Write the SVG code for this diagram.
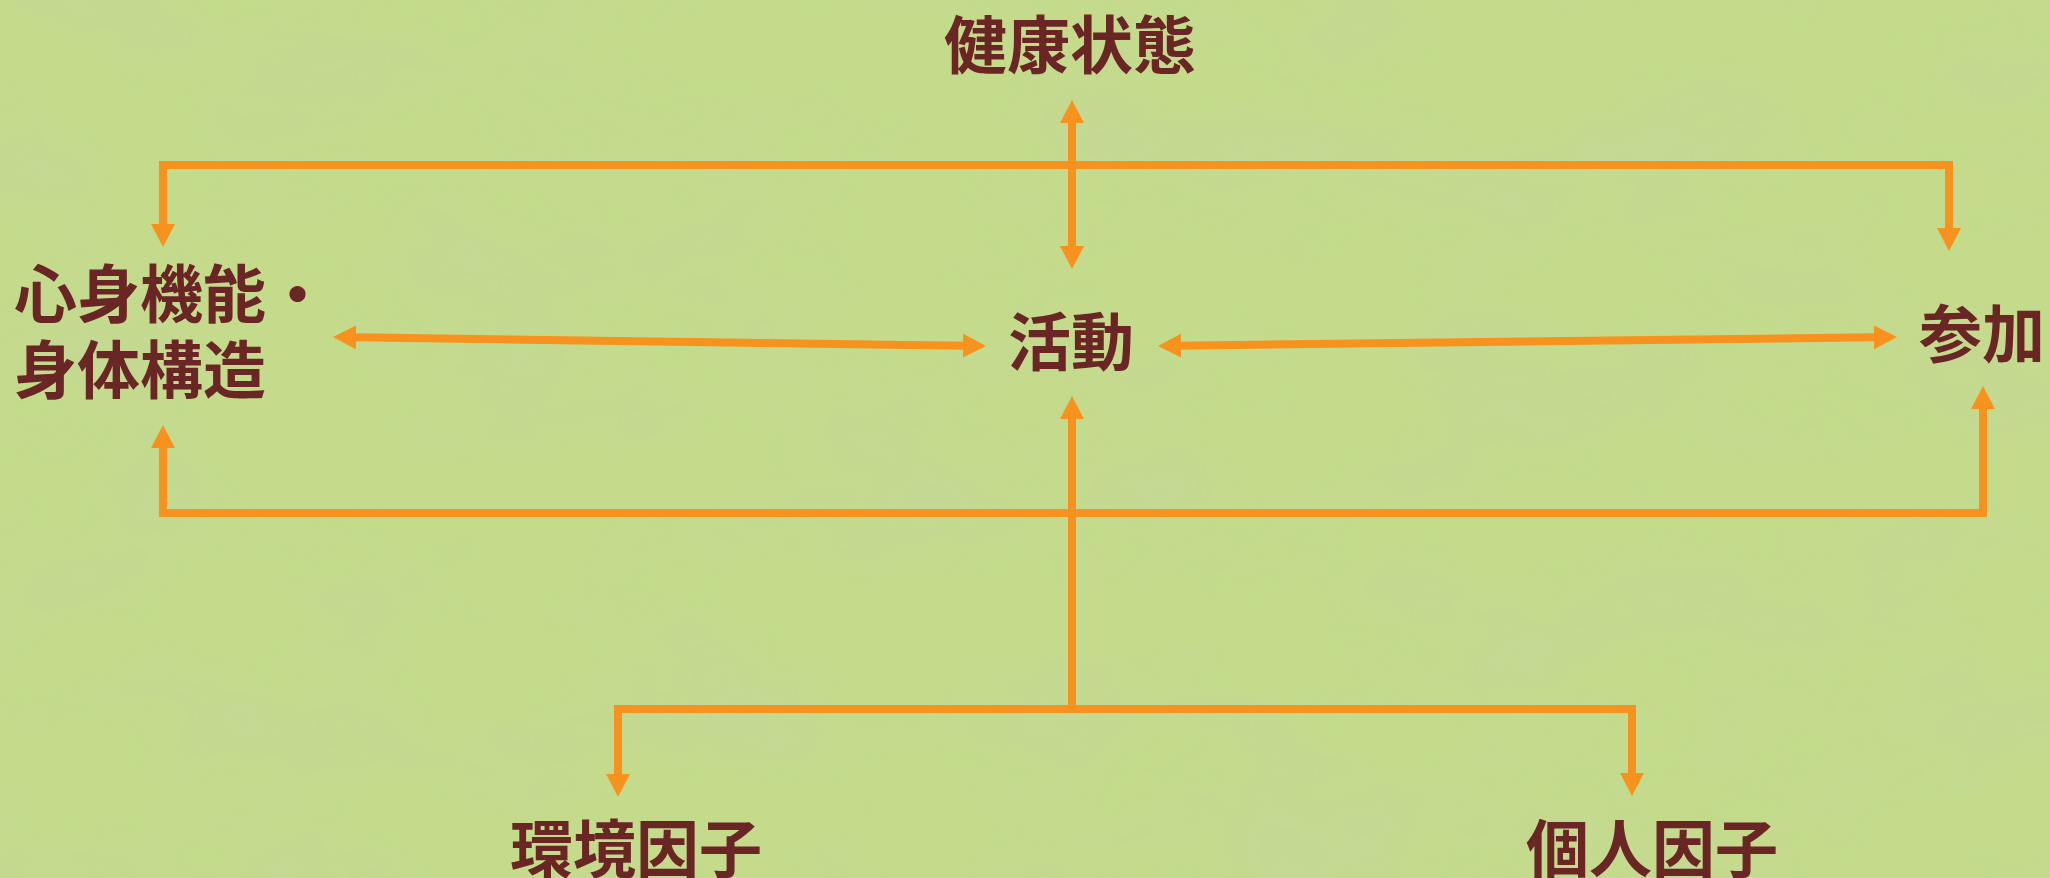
<svg xmlns="http://www.w3.org/2000/svg" width="2050" height="878" viewBox="0 0 2050 878">
  <style>
    .lbl { font-family: "Noto Sans CJK JP", "Noto Sans CJK SC", sans-serif; font-weight: 700; font-size: 63px; fill: #6a2525; }
    .conn { fill: none; stroke: #f7921e; stroke-width: 8; stroke-linejoin: miter; stroke-linecap: butt; }
  </style>
  <defs>
    <marker id="ah" markerUnits="userSpaceOnUse" markerWidth="26" markerHeight="26" refX="1" refY="12" orient="auto-start-reverse" viewBox="0 0 26 26">
      <path d="M0,0 L23,12 L0,24 Z" fill="#f7921e"/>
    </marker>
    <filter id="tex" x="0" y="0" width="100%" height="100%">
      <feTurbulence type="fractalNoise" baseFrequency="0.005 0.009" numOctaves="4" seed="7" result="n"/>
      <feColorMatrix in="n" type="matrix" values="0 0 0 0 0.55  0 0 0 0 0.66  0 0 0 0 0.35  0 0 0 1.8 -0.8"/>
    </filter>
  </defs>
  <rect width="2050" height="878" fill="#c4db8c"/>
  <rect width="2050" height="878" filter="url(#tex)" opacity="0.5"/>

  <g id="connectors">
    <path class="conn" d="M1072,122 V247" marker-start="url(#ah)" marker-end="url(#ah)"/>
    <path class="conn" d="M163,225 V165 H1949 V229" marker-start="url(#ah)" marker-end="url(#ah)"/>
    <path class="conn" d="M355,337.3 L964,345.7" marker-start="url(#ah)" marker-end="url(#ah)"/>
    <path class="conn" d="M1180,345.7 L1875,337.3" marker-start="url(#ah)" marker-end="url(#ah)"/>
    <path class="conn" d="M163,447 V513 H1983 V408" marker-start="url(#ah)" marker-end="url(#ah)"/>
    <path class="conn" d="M1072,709 V418" marker-end="url(#ah)"/>
    <path class="conn" d="M618,775 V709 H1632 V774" marker-start="url(#ah)" marker-end="url(#ah)"/>
  </g>

  <g id="node-health"><text class="lbl" x="1070" y="68" text-anchor="middle">健康状態</text></g>
  <g id="node-body"><text class="lbl" x="14" y="317">心身機能・</text><text class="lbl" x="14" y="393">身体構造</text></g>
  <g id="node-activity"><text class="lbl" x="1071" y="365" text-anchor="middle">活動</text></g>
  <g id="node-participation"><text class="lbl" x="1919" y="357">参加</text></g>
  <g id="node-environment"><text class="lbl" x="636" y="872" text-anchor="middle">環境因子</text></g>
  <g id="node-personal"><text class="lbl" x="1652" y="872" text-anchor="middle">個人因子</text></g>
</svg>
